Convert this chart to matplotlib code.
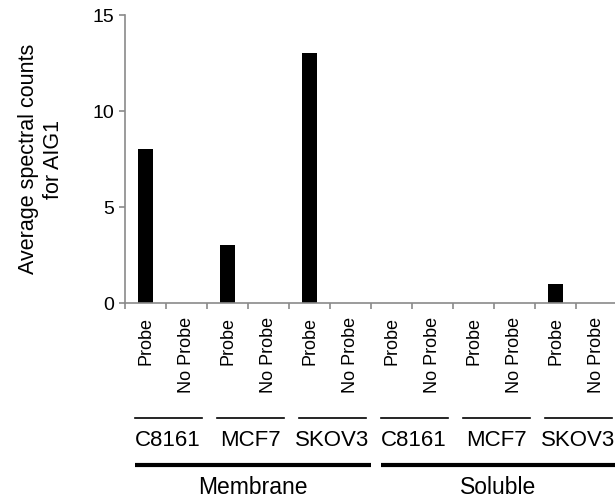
import numpy as np
from matplotlib import pyplot as plt
from matplotlib.transforms import blended_transform_factory

plt.rcParams['font.family'] = ['Liberation Sans', 'DejaVu Sans']

conditions = ["Probe", "No Probe"] * 6
cell_lines = ["C8161", "MCF7", "SKOV3", "C8161", "MCF7", "SKOV3"]
fractions = ["Membrane", "Soluble"]
counts = [8, 0, 3, 0, 13, 0, 0, 0, 0, 0, 1, 0]

axis_grey = "#8a8a8a"

fig = plt.figure(figsize=(6.15, 5.04), dpi=100)
ax = fig.add_axes([0.2033, 0.3988, 0.797, 0.5714])

x = np.arange(len(counts))
ax.bar(x, counts, width=0.37, color="black")

ax.set_xlim(-0.5, 11.45)
ax.set_ylim(0, 15)
ax.set_yticks([0, 5, 10, 15])
ax.tick_params(axis="y", labelsize=14, length=4, width=1.2, color=axis_grey, pad=4)

ax.set_xticks(x)
ax.set_xticklabels(conditions, rotation=90, va="top", ha="center", fontsize=13)
ax.tick_params(axis="x", which="major", length=0, pad=10)
ax.set_xticks(np.arange(-0.5, 11.0, 1.0), minor=True)
ax.tick_params(axis="x", which="minor", length=4, width=1.2, color=axis_grey)

for side in ["top", "right"]:
    ax.spines[side].set_visible(False)
for side in ["left", "bottom"]:
    ax.spines[side].set_color(axis_grey)
    ax.spines[side].set_linewidth(1.2)

ax.set_ylabel("Average spectral counts\nfor AIG1", fontsize=15.5, labelpad=20,
              linespacing=1.3)

trans = blended_transform_factory(ax.transData, ax.transAxes)

# cell line brackets
for i, name in enumerate(cell_lines):
    start = 2 * i
    ax.plot([start - 0.25, start + 1.38], [-0.398, -0.398], transform=trans,
            color="black", lw=1.2, clip_on=False)
    ax.text(start + 0.55, -0.476, name, transform=trans, ha="center", va="center",
            fontsize=16)

# fraction brackets
ax.plot([-0.25, 5.5], [-0.5625, -0.5625], transform=trans, color="black",
        lw=3, clip_on=False, solid_capstyle="butt")
ax.plot([5.75, 11.5], [-0.5625, -0.5625], transform=trans, color="black",
        lw=3, clip_on=False, solid_capstyle="butt")
ax.text(2.62, -0.642, fractions[0], transform=trans, ha="center", va="center", fontsize=16.5)
ax.text(8.6, -0.642, fractions[1], transform=trans, ha="center", va="center", fontsize=16.5)

fig.savefig("out.png", dpi=100)
